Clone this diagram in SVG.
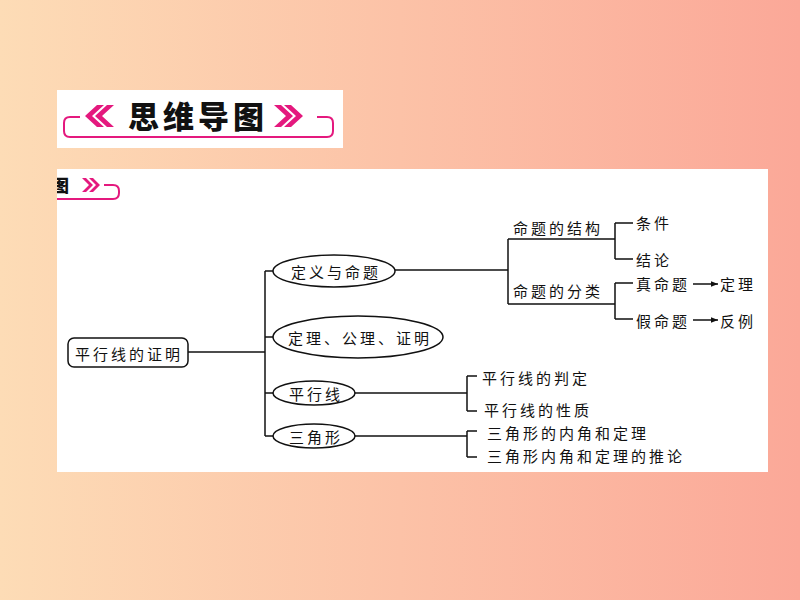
<svg xmlns="http://www.w3.org/2000/svg" width="800" height="600" viewBox="0 0 800 600">
<defs>
<linearGradient id="bg" x1="0" y1="0" x2="1" y2="0">
<stop offset="0" stop-color="#FDDCB6"/>
<stop offset="1" stop-color="#FBA898"/>
</linearGradient>
<marker id="arr" viewBox="0 0 10 10" refX="10" refY="5" markerWidth="7" markerHeight="7" markerUnits="userSpaceOnUse" orient="auto">
<path d="M0,1 L10,5 L0,9 Z" fill="#111"/>
</marker>
<clipPath id="panelClip"><rect x="57" y="169" width="711" height="303"/></clipPath>
<style>
.t{font-family:"Noto Sans CJK SC","Noto Sans",sans-serif;font-size:15px;fill:#111;letter-spacing:3px;dominant-baseline:central}
.ln{stroke:#111;stroke-width:1.5;fill:none}
.el{fill:#fff;stroke:#111;stroke-width:1.5}
.pk{fill:#E4197E}
.pl{stroke:#E4197E;stroke-width:2;fill:none}
</style>
</defs>
<rect width="800" height="600" fill="url(#bg)"/>

<g id="title">
<rect x="57" y="90" width="286" height="58" fill="#fff"/>
<path class="pl" d="M80,117 H70 Q64,117 64,123 V131 Q64,137 70,137 H327 Q333,137 333,131 V123 Q333,117 327,117 H317"/>
<polygon class="pk" points="85,116 97,105 104,105 92,116 104,127 97,127"/>
<polygon class="pk" points="95,116 107,105 114,105 102,116 114,127 107,127"/>
<text x="198" y="114" text-anchor="middle" style="font-family:'Noto Sans CJK SC',sans-serif;font-size:31px;font-weight:900;fill:#111;dominant-baseline:central;letter-spacing:4px">思维导图</text>
<polygon class="pk" points="303,116 291,105 284,105 296,116 284,127 291,127"/>
<polygon class="pk" points="293,116 281,105 274,105 286,116 274,127 281,127"/>
</g>

<rect x="57" y="169" width="711" height="303" fill="#fff"/>

<g id="panel-header" clip-path="url(#panelClip)">
<text x="52" y="184" style="font-family:'Noto Sans CJK SC',sans-serif;font-size:17px;font-weight:900;fill:#111;dominant-baseline:central">图</text>
<polygon class="pk" points="89,185 82,178 86,178 93,185 86,192 82,192"/>
<polygon class="pk" points="96,185 89,178 93,178 100,185 93,192 89,192"/>
<path class="pl" d="M104,185 H113 Q119,185 119,191 V193 Q119,199 113,199 H57"/>
</g>

<g id="connectors">
<path class="ln" d="M188,352 H265"/>
<path class="ln" d="M265,271 V436"/>
<path class="ln" d="M265,271 H273 M265,337 H273 M265,393 H273 M265,436 H273"/>
<path class="ln" d="M395,270 H508"/>
<path class="ln" d="M508,239 V304"/>
<path class="ln" d="M508,239 H615 M508,304 H615"/>
<path class="ln" d="M615,223 V259 M615,223 H633 M615,259 H633"/>
<path class="ln" d="M615,283 V319 M615,283 H633 M615,319 H633"/>
<path class="ln" d="M693,284 H718" marker-end="url(#arr)"/>
<path class="ln" d="M693,320 H718" marker-end="url(#arr)"/>
<path class="ln" d="M355,393 H467"/>
<path class="ln" d="M467,376 V411 M467,376 H477 M467,411 H477"/>
<path class="ln" d="M355,436 H467"/>
<path class="ln" d="M467,431 V457 M467,431 H477 M467,457 H477"/>
</g>

<g id="root">
<rect x="68" y="338" width="120" height="29" rx="6" ry="6" class="el"/>
<text class="t" x="129" y="353" text-anchor="middle">平行线的证明</text>
</g>

<g id="n-dingyi">
<ellipse cx="334" cy="271" rx="61" ry="16" class="el"/>
<text class="t" x="336" y="271" text-anchor="middle">定义与命题</text>
</g>
<g id="n-dingli">
<ellipse cx="358" cy="337" rx="85" ry="21" class="el"/>
<text class="t" x="360" y="337" text-anchor="middle">定理、公理、证明</text>
</g>
<g id="n-pingxingxian">
<ellipse cx="314" cy="393" rx="41" ry="12" class="el"/>
<text class="t" x="316" y="393" text-anchor="middle">平行线</text>
</g>
<g id="n-sanjiaoxing">
<ellipse cx="314" cy="436" rx="41" ry="12" class="el"/>
<text class="t" x="316" y="436" text-anchor="middle">三角形</text>
</g>

<g id="n-jiegou"><text class="t" x="513" y="227">命题的结构</text></g>
<g id="n-fenlei"><text class="t" x="513" y="290">命题的分类</text></g>
<g id="n-tiaojian"><text class="t" x="636" y="222">条件</text></g>
<g id="n-jielun"><text class="t" x="636" y="259">结论</text></g>
<g id="n-zhen"><text class="t" x="636" y="283">真命题</text></g>
<g id="n-jia"><text class="t" x="636" y="320">假命题</text></g>
<g id="n-dinglil"><text class="t" x="720" y="283">定理</text></g>
<g id="n-fanli"><text class="t" x="720" y="320">反例</text></g>
<g id="n-panding"><text class="t" x="482" y="377">平行线的判定</text></g>
<g id="n-xingzhi"><text class="t" x="484" y="409">平行线的性质</text></g>
<g id="n-neijiao"><text class="t" x="487" y="432">三角形的内角和定理</text></g>
<g id="n-tuilun"><text class="t" x="487" y="455">三角形内角和定理的推论</text></g>
</svg>
